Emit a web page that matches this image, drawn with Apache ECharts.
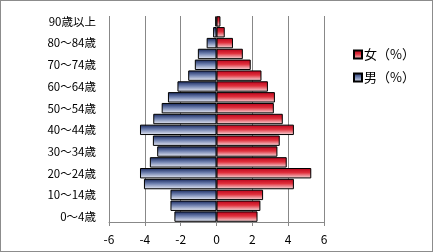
<!DOCTYPE html>
<html><head><meta charset="utf-8">
<script src="https://cdn.jsdelivr.net/npm/echarts@6/dist/echarts.min.js"></script>
<style>html,body{margin:0;padding:0;background:#fff}#c{width:433px;height:252px;box-sizing:border-box;border:1px solid #8c8c8c}</style>
</head><body><div id="c"></div>
<script>
const categories = ['0～4歳','5～9歳','10～14歳','15～19歳','20～24歳','25～29歳','30～34歳','35～39歳','40～44歳','45～49歳','50～54歳','55～59歳','60～64歳','65～69歳','70～74歳','75～79歳','80～84歳','85～89歳','90歳以上'];
const female = [2.29,2.45,2.6,4.32,5.29,3.92,3.4,3.53,4.32,3.7,3.2,3.26,2.87,2.51,1.91,1.47,0.92,0.46,0.22];
const male = [-2.35,-2.57,-2.57,-4.05,-4.27,-3.72,-3.31,-3.55,-4.27,-3.53,-3.06,-2.71,-2.18,-1.58,-1.21,-1.04,-0.55,-0.19,-0.07];
const xTicks = {min:-6, max:6, interval:2};

const font = '"Noto Sans CJK JP", sans-serif';
const grad = (c0,c1,c2) => new echarts.graphic.LinearGradient(0,0,0,1,[{offset:0,color:c0},{offset:0.45,color:c1},{offset:1,color:c2}]);
const chart = echarts.init(document.getElementById('c'));
chart.setOption({
  animation:false,
  grid:{left:108,right:108,top:15,bottom:29,containLabel:false},
  legend:{
    data:['女（%）','男（%）'], orient:'vertical', left:347, top:42, itemGap:10,
    itemWidth:8, itemHeight:8, icon:'rect',
    textStyle:{fontFamily:font,fontSize:13,color:'#000',padding:[0,0,0,-3]}
  },
  xAxis:{type:'value',min:xTicks.min,max:xTicks.max,interval:xTicks.interval,
    axisLine:{show:true,lineStyle:{color:'#888'}},
    axisTick:{show:true,length:4,lineStyle:{color:'#888'}},
    axisLabel:{fontFamily:font,fontSize:12,color:'#000',margin:11},
    splitLine:{show:true,lineStyle:{color:'#888'}}
  },
  yAxis:{type:'category',data:categories,
    axisLine:{show:false},axisTick:{show:false},
    axisLabel:{interval:1,fontFamily:font,fontSize:11.5,color:'#000',margin:13}
  },
  series:[
    {name:'女（%）',type:'bar',data:female,barGap:'-100%',barCategoryGap:'4%',
      itemStyle:{color:grad('#b8001a','#e0303c','#f8e4e6'),borderColor:'#000',borderWidth:1}},
    {name:'男（%）',type:'bar',data:male,barGap:'-100%',barCategoryGap:'4%',
      itemStyle:{color:grad('#14245a','#6d7fae','#eef0f8'),borderColor:'#000',borderWidth:1}}
  ]
});
</script></body></html>
